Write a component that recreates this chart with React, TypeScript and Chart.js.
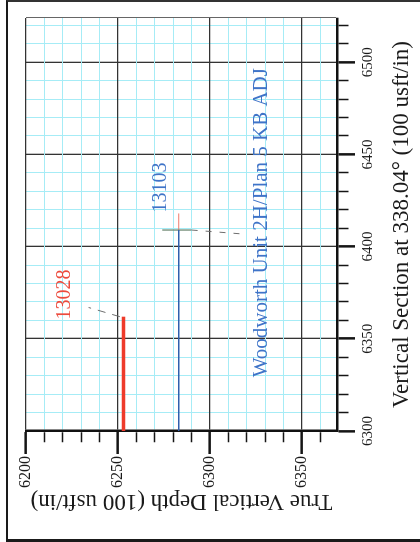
import React, { useEffect, useRef } from "react";
import { Chart, registerables } from "chart.js";

Chart.register(...registerables);

// ---- axes ----
const VS_MIN = 6300;
const VS_MAX = 6524;
const TVD_MIN = 6200;
const TVD_MAX = 6369;
const VS_TICK_LABELS = [6300, 6350, 6400, 6450, 6500];
const TVD_TICK_LABELS = [6200, 6250, 6300, 6350];
const MINOR_STEP = 10;
const MAJOR_STEP = 50;

// ---- well paths (x = vertical section, y = true vertical depth) ----
const plan13028VS = [6300, 6362];
const plan13028TVD = [6253, 6253];
const woodworthVS = [6300, 6409];
const woodworthTVD = [6283, 6283];
const leader13028VS = [6362, 6367];
const leader13028TVD = [6251, 6234];
const crossVS = [6409, 6409];
const crossTVD = [6274, 6290];
const crossTickVS = [6409, 6418];
const crossTickTVD = [6283, 6283];
const leaderWoodVS = [6409, 6407];
const leaderWoodTVD = [6290, 6316];

// ---- annotations ----
const labelTexts = ["13028", "13103", "Woodworth Unit 2H/Plan 5 KB ADJ"];
const labelVS = [6374, 6432, 6413];
const labelTVD = [6221, 6273, 6328];
const labelColors = ["#ec4a3c", "#3f74c8", "#3f74c8"];
const labelSizes = [20, 20, 21];

const SERIF = "'Liberation Serif', 'Times New Roman', serif";
const MAJOR_COLOR = "#333333";
const MINOR_COLOR = "#a6ecf6";
const EDGE_COLOR = "#666666";

const pts = (xs: number[], ys: number[]) => xs.map((v, i) => ({ x: v, y: ys[i] }));
const stepValues = (min: number, max: number, step: number) => {
  const out: number[] = [];
  for (let v = min; v <= max + 1e-9; v += step) out.push(v);
  return out;
};
const isMajor = (v: number) => Math.abs(v % MAJOR_STEP) < 1e-6;

const labelPlugin = {
  id: "wellLabels",
  afterDatasetsDraw(chart: any) {
    const { ctx, scales } = chart;
    const x = scales.x;
    const y = scales.y;
    ctx.save();
    ctx.textAlign = "center";
    ctx.textBaseline = "middle";
    labelTexts.forEach((t, i) => {
      ctx.font = `${labelSizes[i]}px ${SERIF}`;
      ctx.fillStyle = labelColors[i];
      ctx.fillText(t, x.getPixelForValue(labelVS[i]), y.getPixelForValue(labelTVD[i]));
    });
    ctx.restore();
  },
};

function gridFor(edgeValue: number | null, minorLen: number, tickLen: number, outerStart: boolean) {
  return {
    color: (c: any) => {
      const v = c.tick ? c.tick.value : 0;
      if (edgeValue !== null && v === edgeValue) return EDGE_COLOR;
      return isMajor(v) ? MAJOR_COLOR : MINOR_COLOR;
    },
    lineWidth: (c: any) => {
      const v = c.tick ? c.tick.value : 0;
      if (edgeValue !== null && v === edgeValue) return 1;
      return isMajor(v) ? 1.3 : 1;
    },
    tickLength: tickLen,
    tickWidth: (c: any) => (c.tick && isMajor(c.tick.value) ? 2.5 : 1.5),
    tickColor: (c: any) =>
      c.tick && edgeValue !== null && c.tick.value === edgeValue ? "rgba(0,0,0,0)" : "#151515",
    tickBorderDash: (c: any) => {
      if (c.tick && isMajor(c.tick.value)) return [];
      return outerStart ? [0, tickLen - 1.25 - minorLen, minorLen, 200] : [minorLen, 200];
    },
  };
}

export default function App() {
  const ref = useRef<HTMLCanvasElement | null>(null);

  useEffect(() => {
    if (!ref.current) return;
    const line = (data: any[], color: string, width: number, dash: number[] = []) => ({
      data,
      showLine: true,
      borderColor: color,
      backgroundColor: color,
      borderWidth: width,
      borderDash: dash,
      pointRadius: 0,
      pointHoverRadius: 0,
    });
    const chart = new Chart(ref.current, {
      type: "scatter",
      data: {
        datasets: [
          line(pts(leader13028VS, leader13028TVD), "#6e6e6e", 1, [8, 7]),
          line(pts(leaderWoodVS, leaderWoodTVD), "#6e6e6e", 1, [6, 8]),
          line(pts(woodworthVS, woodworthTVD), "#2f5fae", 1.6),
          line(pts(plan13028VS, plan13028TVD), "#ee3b2b", 3.5),
          line(pts(crossVS, crossTVD), "#6f8a74", 1.3),
          line(pts(crossTickVS, crossTickTVD), "#f07a6a", 1),
        ] as any,
      },
      options: {
        animation: false,
        responsive: false,
        events: [],
        layout: { padding: { top: 26, right: 18, bottom: 0, left: 0 } },
        plugins: { legend: { display: false }, tooltip: { enabled: false } },
        scales: {
          x: {
            type: "linear",
            position: "bottom",
            min: VS_MIN,
            max: VS_MAX,
            afterBuildTicks: (scale: any) => {
              scale.ticks = stepValues(VS_MIN, VS_MAX, MINOR_STEP)
                .concat([VS_MAX])
                .map((v) => ({ value: v }));
            },
            afterFit: (scale: any) => {
              scale.height = 83;
            },
            grid: gridFor(VS_MAX, 10, 18, false) as any,
            border: { display: true, color: "#111", width: 2.5 },
            ticks: {
              autoSkip: false,
              maxRotation: 0,
              minRotation: 0,
              padding: 4,
              color: "#1a1a1a",
              font: { family: SERIF, size: 15 },
              callback: (v: any) => (VS_TICK_LABELS.includes(Number(v)) ? String(v) : ""),
            },
            title: {
              display: true,
              text: "Vertical Section at 338.04° (100 usft/in)",
              color: "#1a1a1a",
              font: { family: SERIF, size: 23 },
              padding: { top: 0, bottom: 4 },
            },
          },
          y: {
            type: "linear",
            position: "left",
            reverse: true,
            min: TVD_MIN,
            max: TVD_MAX,
            afterBuildTicks: (scale: any) => {
              scale.ticks = stepValues(TVD_MIN, TVD_MAX, MINOR_STEP).map((v) => ({ value: v }));
            },
            afterFit: (scale: any) => {
              scale.width = 111;
            },
            grid: gridFor(null, 10, 23, true) as any,
            border: { display: true, color: "#111", width: 2.5 },
            ticks: {
              autoSkip: false,
              padding: 2,
              color: "#1a1a1a",
              font: { family: SERIF, size: 16 },
              callback: (v: any) => (TVD_TICK_LABELS.includes(Number(v)) ? String(v) : ""),
            },
            title: {
              display: true,
              text: "True Vertical Depth (100 usft/in)",
              color: "#1a1a1a",
              font: { family: SERIF, size: 23 },
              padding: { top: 27, bottom: 0 },
            },
          },
        },
      },
      plugins: [labelPlugin],
    } as any);
    return () => chart.destroy();
  }, []);

  return (
    <div
      style={{
        position: "fixed",
        left: 0,
        top: 0,
        width: 420,
        height: 542,
        overflow: "hidden",
        background: "#fff",
      }}
    >
      <div
        style={{
          position: "absolute",
          left: 0,
          top: 0,
          width: 542,
          height: 420,
          transformOrigin: "0 0",
          transform: "translateY(542px) rotate(-90deg)",
        }}
      >
        <canvas ref={ref} width={542} height={420} style={{ display: "block", width: 542, height: 420 }} />
      </div>
      <div
        style={{
          position: "absolute",
          left: 6,
          top: 0,
          width: 414,
          height: 542,
          boxSizing: "border-box",
          borderLeft: "2px solid #1a1a1a",
          borderBottom: "3px solid #1a1a1a",
          borderTop: "2px solid #333",
          pointerEvents: "none",
        }}
      />
    </div>
  );
}
